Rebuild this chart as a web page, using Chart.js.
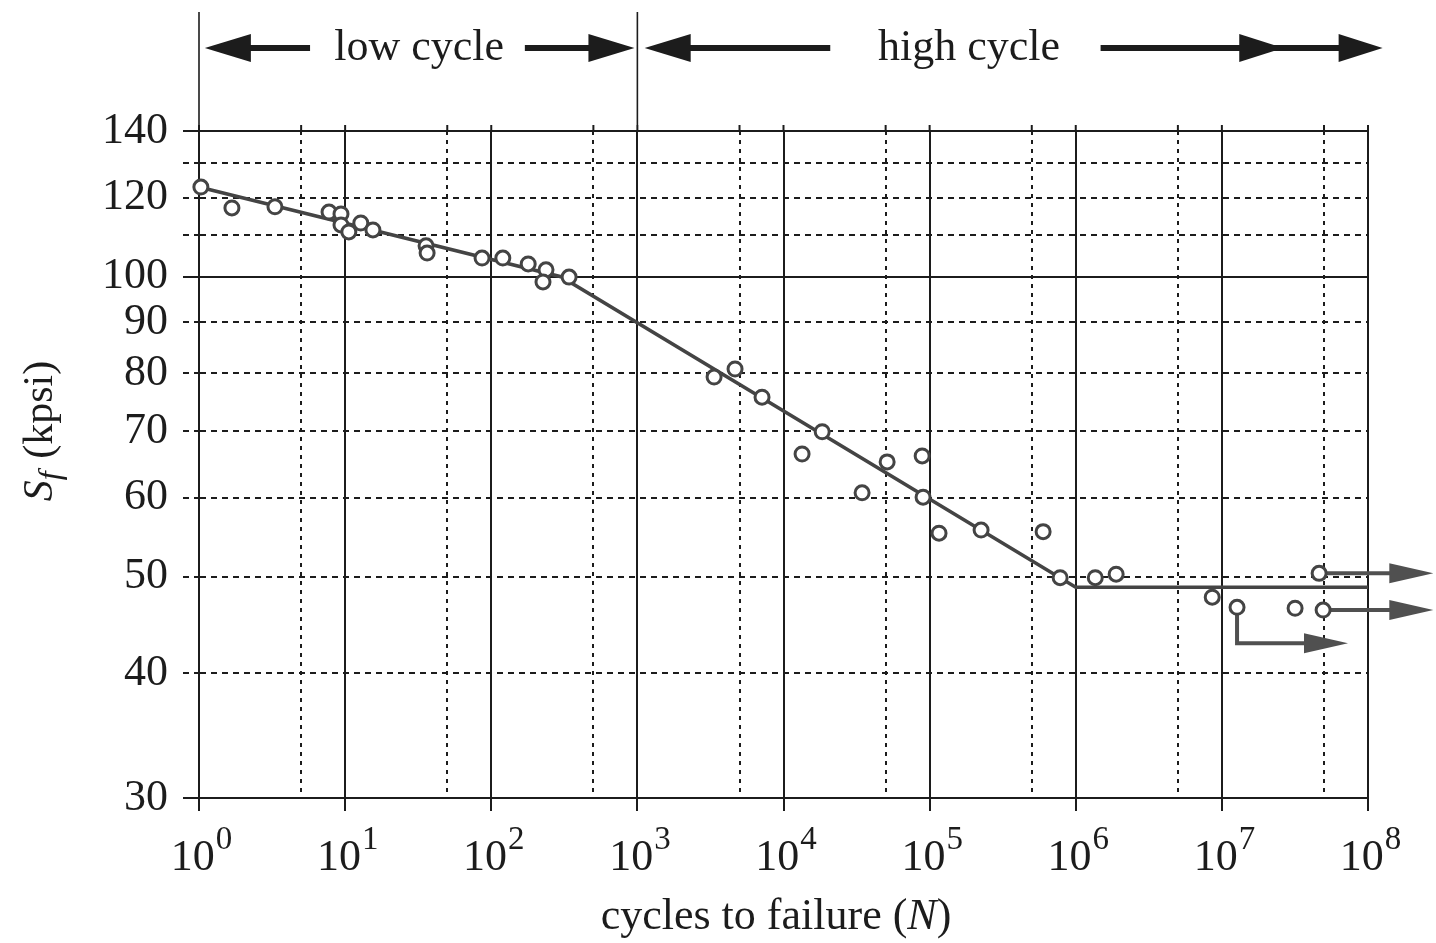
<!DOCTYPE html>
<html>
<head>
<meta charset="utf-8">
<title>S-N diagram</title>
<script src="https://cdn.jsdelivr.net/npm/chart.js@4/dist/chart.umd.min.js"></script>
<style>
  html, body { margin: 0; padding: 0; background: #fff; }
  #wrap { width: 1436px; height: 943px; }
</style>
</head>
<body>
<div id="wrap"><canvas id="snChart" width="1436" height="943"></canvas></div>
<script>
// tick values
const xTicks = [1, 5, 10, 50, 100, 500, 1e3, 5e3, 1e4, 5e4, 1e5, 5e5, 1e6, 5e6, 1e7, 5e7, 1e8];
const xDecades = [0, 1, 2, 3, 4, 5, 6, 7, 8];
const yTicks = [30, 40, 50, 60, 70, 80, 90, 100, 110, 120, 130, 140];
const yLabels = [30, 40, 50, 60, 70, 80, 90, 100, 120, 140];
const ySolid = [30, 100, 140];

// test results (cycles, kpsi)
const testCycles = [1.03, 1.68, 3.31, 7.76, 9.37, 9.37, 10.6, 12.8, 15.5, 35.8, 36.4, 86.5, 120, 179, 237, 226, 341,
  3350, 4660, 7130, 13400, 18400, 34500, 51200, 88900, 90200, 116000, 225000, 598000,
  782000, 1.36e6, 1.89e6, 8.59e6, 1.27e7, 3.17e7, 4.63e7, 4.93e7];
const testStress = [123.0, 117.2, 117.5, 116.1, 115.6, 112.7, 110.9, 113.2, 111.4, 107.4, 105.6, 104.4, 104.4, 103.0, 101.6, 98.8, 99.9,
  79.3, 80.8, 75.7, 66.4, 69.9, 60.7, 65.2, 66.1, 60.1, 55.3, 55.7, 55.5,
  49.9, 49.9, 50.3, 47.7, 46.6, 46.5, 50.4, 46.3];

// fitted S-N line
const fitCycles = [1, 300, 1e6, 1e8];
const fitStress = [123, 100, 48.8, 48.8];

// run-outs (specimens that did not fail)
const runoutCycles = [[4.63e7, 2.8e8], [4.93e7, 2.8e8], [1.27e7, 1.27e7, 7.3e7]];
const runoutStress = [[50.4, 50.4], [46.3, 46.3], [46.6, 42.9, 42.9]];

const ink = '#1c1c1c';
const markGrey = '#444';
const serif = '"Liberation Serif", "DejaVu Serif", serif';

const isDecade = v => Math.abs(Math.log10(v) - Math.round(Math.log10(v))) < 1e-6;

function arrowHead(ctx, tipX, tipY, dir, len, half) {
  ctx.beginPath();
  ctx.moveTo(tipX, tipY);
  ctx.lineTo(tipX - dir * len, tipY - half);
  ctx.lineTo(tipX - dir * len, tipY + half);
  ctx.closePath();
  ctx.fill();
}

// run-out arrows, under the circles
const runoutPlugin = {
  id: 'runouts',
  beforeDatasetsDraw(chart) {
    const { ctx, scales: { x, y } } = chart;
    ctx.save();
    ctx.strokeStyle = '#505050';
    ctx.fillStyle = '#505050';
    ctx.lineWidth = 4;
    runoutCycles.forEach((cyc, i) => {
      const pts = cyc.map((c, j) => [x.getPixelForValue(c), y.getPixelForValue(runoutStress[i][j])]);
      const last = pts[pts.length - 1];
      ctx.beginPath();
      ctx.moveTo(pts[0][0], pts[0][1]);
      for (let j = 1; j < pts.length - 1; j++) ctx.lineTo(pts[j][0], pts[j][1]);
      ctx.lineTo(last[0] - 38, last[1]);
      ctx.stroke();
      arrowHead(ctx, last[0], last[1], 1, 44, 10);
    });
    ctx.restore();
  }
};

// tick labels with superscripts, titles and the low / high cycle band
const annotatePlugin = {
  id: 'annotate',
  afterDraw(chart) {
    const { ctx, chartArea: area, scales: { x, y } } = chart;
    ctx.save();
    ctx.fillStyle = ink;
    ctx.strokeStyle = ink;

    // small marks above the top border
    ctx.lineWidth = 2;
    xTicks.forEach(v => {
      const px = x.getPixelForValue(v);
      ctx.beginPath();
      ctx.moveTo(px, area.top - 6);
      ctx.lineTo(px, area.top);
      ctx.stroke();
    });

    // x tick labels 10^k
    ctx.textBaseline = 'alphabetic';
    ctx.textAlign = 'left';
    xDecades.forEach(k => {
      const px = x.getPixelForValue(Math.pow(10, k));
      ctx.font = '44px ' + serif;
      const wBase = ctx.measureText('10').width;
      ctx.font = '33px ' + serif;
      const wExp = ctx.measureText(String(k)).width;
      const left = px - (wBase + wExp) / 2 + 2;
      ctx.font = '44px ' + serif;
      ctx.fillText('10', left, area.bottom + 72);
      ctx.font = '33px ' + serif;
      ctx.fillText(String(k), left + wBase + 1, area.bottom + 51);
    });

    // x title: cycles to failure (N)
    const parts = [['cycles to failure (', '44px ' + serif], ['N', 'italic 44px ' + serif], [')', '44px ' + serif]];
    let total = 0;
    parts.forEach(p => { ctx.font = p[1]; total += ctx.measureText(p[0]).width; });
    let cx = 776 - total / 2;
    parts.forEach(p => { ctx.font = p[1]; ctx.fillText(p[0], cx, area.bottom + 131); cx += ctx.measureText(p[0]).width; });

    // y title: S_f (kpsi), rotated
    ctx.save();
    ctx.translate(52, 432);
    ctx.rotate(-Math.PI / 2);
    const yParts = [['S', 'italic 42px ' + serif, 0], ['f', 'italic 32px ' + serif, 8], [' (kpsi)', '42px ' + serif, 0]];
    let yTotal = 0;
    yParts.forEach(p => { ctx.font = p[1]; yTotal += ctx.measureText(p[0]).width; });
    let cy = -yTotal / 2;
    yParts.forEach(p => { ctx.font = p[1]; ctx.fillText(p[0], cy, p[2]); cy += ctx.measureText(p[0]).width + (p[0] === 'f' ? 2 : 0); });
    ctx.restore();

    // low cycle / high cycle band above the plot
    const lx = e => x.getPixelForValue(Math.pow(10, e));
    const ay = area.top - 83;
    ctx.lineWidth = 1.6;
    [0, 3].forEach(e => {
      ctx.beginPath();
      ctx.moveTo(lx(e), area.top - 119);
      ctx.lineTo(lx(e), area.top - 6);
      ctx.stroke();
    });
    ctx.lineWidth = 6;
    const shaft = (a, b) => { ctx.beginPath(); ctx.moveTo(a, ay); ctx.lineTo(b, ay); ctx.stroke(); };
    shaft(lx(0.30), lx(0.76));
    arrowHead(ctx, lx(0.04), ay, -1, 46, 14);
    shaft(lx(2.23), lx(2.70));
    arrowHead(ctx, lx(2.98), ay, 1, 46, 14);
    shaft(lx(3.30), lx(4.32));
    arrowHead(ctx, lx(3.05), ay, -1, 46, 14);
    shaft(lx(6.17), lx(7.85));
    arrowHead(ctx, lx(7.42), ay, 1, 44, 14);
    arrowHead(ctx, lx(8.10), ay, 1, 44, 14);

    ctx.font = '44px ' + serif;
    ctx.textAlign = 'center';
    ctx.fillText('low cycle', lx(1.506), area.top - 71);
    ctx.fillText('high cycle', lx(5.27), area.top - 71);
    ctx.restore();
  }
};

const ctx = document.getElementById('snChart').getContext('2d');
new Chart(ctx, {
  type: 'scatter',
  data: {
    datasets: [
      {
        label: 'test data',
        data: testCycles.map((c, i) => ({ x: c, y: testStress[i] })),
        pointRadius: 7,
        pointBorderWidth: 3,
        pointBorderColor: markGrey,
        pointBackgroundColor: '#fff',
        showLine: false,
        clip: false
      },
      {
        label: 'S-N line',
        data: fitCycles.map((c, i) => ({ x: c, y: fitStress[i] })),
        showLine: true,
        borderColor: markGrey,
        borderWidth: 3.5,
        pointRadius: 0,
        clip: false
      }
    ]
  },
  options: {
    responsive: false,
    animation: false,
    events: [],
    layout: { padding: { left: 0, top: 131, right: 68, bottom: 0 } },
    plugins: { legend: { display: false }, tooltip: { enabled: false } },
    scales: {
      x: {
        type: 'logarithmic',
        min: 1,
        max: 1e8,
        afterBuildTicks: axis => { axis.ticks = xTicks.map(v => ({ value: v })); },
        afterFit: axis => { axis.height = 145; },
        ticks: { display: false },
        grid: {
          color: ink,
          lineWidth: 2,
          tickLength: 13,
          tickColor: c => (c.tick && !isDecade(c.tick.value)) ? 'rgba(0,0,0,0)' : ink
        },
        border: {
          color: ink,
          width: 2,
          dash: c => (c.tick && !isDecade(c.tick.value)) ? [4, 5] : []
        }
      },
      y: {
        type: 'logarithmic',
        min: 30,
        max: 140,
        afterBuildTicks: axis => { axis.ticks = yTicks.map(v => ({ value: v })); },
        afterFit: axis => { axis.width = 199; },
        ticks: {
          color: ink,
          font: { family: serif, size: 44 },
          padding: 15,
          callback: v => yLabels.includes(v) ? String(v) : ''
        },
        grid: {
          color: ink,
          lineWidth: 2,
          tickLength: 16,
          tickColor: ink,
          tickBorderDash: c => (c.tick && !ySolid.includes(c.tick.value)) ? [6, 5] : []
        },
        border: {
          color: ink,
          width: 2,
          dash: c => (c.tick && !ySolid.includes(c.tick.value)) ? [6, 5] : []
        }
      }
    }
  },
  plugins: [runoutPlugin, annotatePlugin]
});
</script>
</body>
</html>
